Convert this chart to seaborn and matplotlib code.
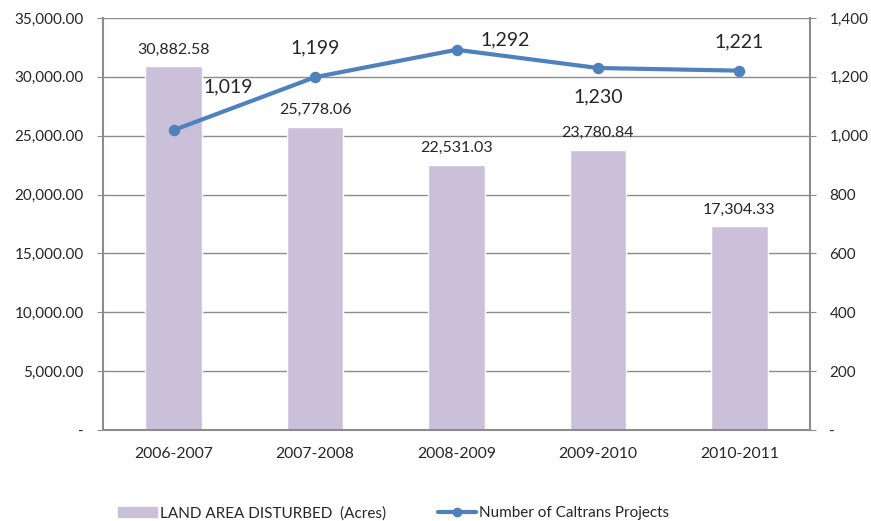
import matplotlib
matplotlib.use('Agg')
import pandas as pd
from matplotlib import pyplot as plt
from matplotlib.ticker import FuncFormatter
from matplotlib.patches import Patch
from matplotlib.lines import Line2D
import seaborn as sns

years = ['2006-2007', '2007-2008', '2008-2009', '2009-2010', '2010-2011']
land_acres = [30882.58, 25778.06, 22531.03, 23780.84, 17304.33]
projects = [1019, 1199, 1292, 1230, 1221]

bar_color = '#CBC0DA'
line_color = '#4F81BD'
grey = '#8C8C8C'

sns.set_style('white')
plt.rcParams['font.family'] = ['Lato', 'DejaVu Sans']

df = pd.DataFrame({'year': years, 'acres': land_acres, 'projects': projects})

fig = plt.figure(figsize=(8.71, 5.21), dpi=100)
ax = fig.add_axes([0.1183, 0.1747, 0.8117, 0.7908])
sns.barplot(data=df, x='year', y='acres', color=bar_color, width=0.4,
            saturation=1, ax=ax)
ax.set_ylim(0, 35000)
ax.set_yticks(range(0, 35001, 5000))
ax.yaxis.set_major_formatter(FuncFormatter(lambda v, p: '-' if v == 0 else f'{v:,.2f}'))
ax.grid(axis='y', color=grey, linewidth=1)
ax.set_axisbelow(True)
ax.set_xlabel('')
ax.set_ylabel('')
ax.set_xlim(-0.5, 4.5)

# category ticks between bars, labels centred
ax.set_xticks([i - 0.5 for i in range(6)])
ax.set_xticklabels([])
ax.set_xticks(range(5), minor=True)
ax.set_xticklabels(years, minor=True)
ax.tick_params(axis='x', which='major', length=5, color=grey, direction='out')
ax.tick_params(axis='x', which='minor', length=0, labelsize=11.3, pad=12)
ax.tick_params(axis='y', length=4, color=grey, direction='out', labelsize=11, pad=10)
for s in ['left', 'bottom']:
    ax.spines[s].set_color(grey)
    ax.spines[s].set_linewidth(1.5)
ax.spines['top'].set_visible(False)
ax.spines['right'].set_visible(False)

ax.bar_label(ax.containers[0], labels=[f'{v:,.2f}' for v in land_acres],
             padding=7, fontsize=11.5)

ax2 = ax.twinx()
sns.pointplot(data=df, x='year', y='projects', color=line_color, markers='o',
              markersize=6, linewidth=3, ax=ax2)
ax2.set_ylim(0, 1400)
ax2.set_yticks(range(0, 1401, 200))
ax2.yaxis.set_major_formatter(FuncFormatter(lambda v, p: '-' if v == 0 else f'{v:,.0f}'))
ax2.tick_params(axis='y', length=4, color=grey, direction='out', labelsize=11, pad=10)
ax2.set_ylabel('')
ax2.set_xlabel('')
ax2.set_xlim(-0.5, 4.5)
ax2.spines['right'].set_color(grey)
ax2.spines['right'].set_linewidth(1.5)
for s in ['top', 'left', 'bottom']:
    ax2.spines[s].set_visible(False)

offsets = [(39, 31), (0, 21), (35, 7), (0, -21), (0, 21)]
for i, (v, off) in enumerate(zip(projects, offsets)):
    ax2.annotate(f'{v:,}', (i, v), xytext=off, textcoords='offset points',
                 ha='center', va='center', fontsize=14)

handles = [Patch(color=bar_color),
           Line2D([], [], color=line_color, linewidth=3, marker='o', markersize=6)]
fig.legend(handles, ['LAND AREA DISTURBED  (Acres)', 'Number of Caltrans Projects'],
           loc='lower center', bbox_to_anchor=(0.452, -0.025), ncol=2, frameon=False,
           fontsize=11, handlelength=2.5, handletextpad=0.2, columnspacing=3.4)

fig.savefig('out.png', dpi=100)
